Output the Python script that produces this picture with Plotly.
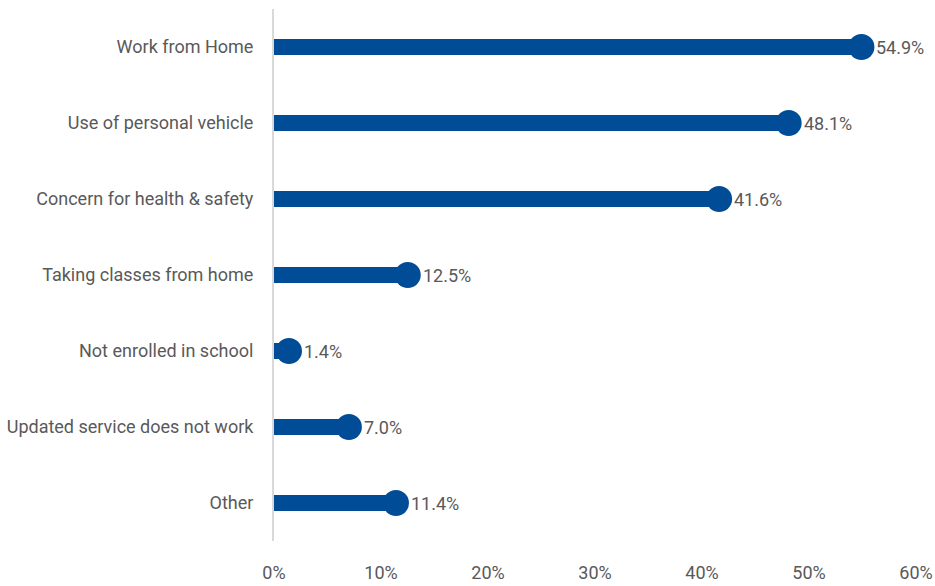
import plotly.graph_objects as go

reasons = [
    "Work from Home",
    "Use of personal vehicle",
    "Concern for health & safety",
    "Taking classes from home",
    "Not enrolled in school",
    "Updated service does not work",
    "Other",
]
shares = [54.9, 48.1, 41.6, 12.5, 1.4, 7.0, 11.4]
tick_vals = [0, 10, 20, 30, 40, 50, 60]
tick_text = ["0%", "10%", "20%", "30%", "40%", "50%", "60%"]

blue = "#004C97"
grey_text = "#595959"
font_family = "Roboto, Lato, sans-serif"
fsize = 18

fig = go.Figure()

# lollipop stems
fig.add_trace(go.Bar(
    x=shares, y=reasons, orientation="h",
    marker=dict(color=blue, line=dict(width=0)),
    width=0.21, hoverinfo="skip",
))

# lollipop heads
fig.add_trace(go.Scatter(
    x=shares, y=reasons, mode="markers",
    marker=dict(color=blue, size=26),
    cliponaxis=False, hoverinfo="skip",
))

# value labels right of each head
for v, r in zip(shares, reasons):
    fig.add_annotation(
        x=v, y=r, text=f"{v:.1f}%", showarrow=False,
        xanchor="left", yanchor="middle", xshift=13,
        font=dict(family=font_family, size=fsize, color=grey_text),
    )

fig.update_layout(
    width=935, height=586,
    margin=dict(l=274, r=19, t=9, b=45),
    paper_bgcolor="white", plot_bgcolor="white",
    showlegend=False,
    font=dict(family=font_family, size=fsize, color=grey_text),
    bargap=0,
)
fig.update_xaxes(
    range=[0, 60], tickvals=tick_vals, ticktext=tick_text,
    showgrid=False, zeroline=False, showline=False, automargin=False,
    ticks="outside", ticklen=15, tickcolor="rgba(0,0,0,0)",
    tickfont=dict(family=font_family, size=fsize, color=grey_text),
)
fig.update_yaxes(
    categoryorder="array", categoryarray=reasons,
    range=[len(reasons) - 0.5, -0.5],
    showgrid=False, zeroline=False, automargin=False,
    showline=True, linecolor="#D9D9D9", linewidth=2,
    ticks="outside", ticklen=15, tickcolor="rgba(0,0,0,0)",
    tickfont=dict(family=font_family, size=fsize, color=grey_text),
)

fig.write_html("out.html")
